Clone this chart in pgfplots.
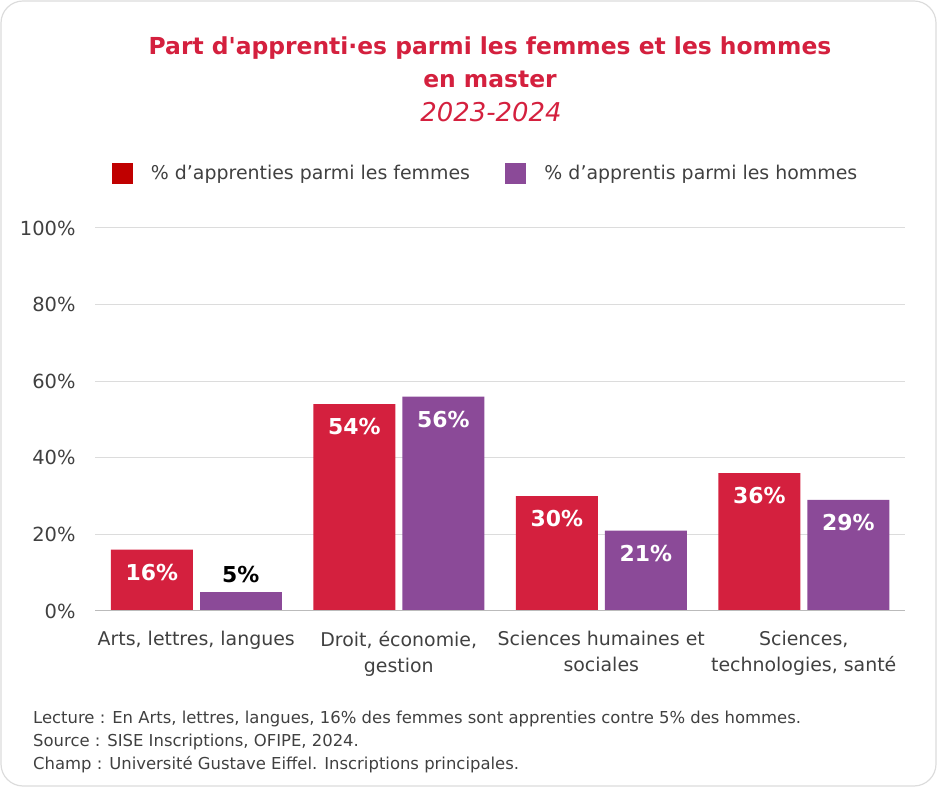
\documentclass[border=0pt]{standalone}
\usepackage{fontspec}
\setmainfont{DejaVu Sans}[Ligatures=TeXOff]
\usepackage{pgfplots}
\pgfplotsset{compat=1.18}
\definecolor{bred}{RGB}{212,32,62}
\definecolor{bpur}{RGB}{139,74,152}
\definecolor{lred}{RGB}{192,0,0}
\definecolor{txt}{RGB}{64,64,64}
\definecolor{grd}{RGB}{220,220,220}
\begin{document}
\begin{tikzpicture}[x=1bp,y=1bp]
\path[use as bounding box] (0,0) rectangle (937,787);
\draw[grd, line width=1.2bp, rounded corners=22bp] (1,1) rectangle (936,786);
\node[bred, font=\bfseries\fontsize{23.5}{28}\selectfont] at (490,739) {Part d'apprenti·es parmi les femmes et les hommes};
\node[bred, font=\bfseries\fontsize{23.5}{28}\selectfont] at (490,708) {en master};
\node[bred, font=\itshape\fontsize{26}{30}\selectfont] at (491,675) {2023-2024};
\begin{axis}[
  at={(95bp,176bp)}, anchor=south west,
  scale only axis, width=810bp, height=383bp,
  xmin=-0.5, xmax=3.5, ymin=0, ymax=100,
  ybar=7bp, bar width=82bp,
  axis line style={draw=none},
  major tick length=0pt,
  ymajorgrids, grid style={grd, line width=1bp},
  ytick={0,20,40,60,80,100},
  yticklabel={\pgfmathprintnumber{\tick}\%},
  /pgf/number format/assume math mode=true,
  y tick label style={font=\fontsize{19.5}{23}\selectfont, text=txt, xshift=-16bp},
  xtick={0,1,2,3},
  xticklabels={{Arts, lettres, langues},{Droit, économie,\\gestion},{Sciences humaines et\\sociales},{Sciences,\\technologies, santé}},
  x tick label style={font=\fontsize{19}{26}\selectfont, text=txt, align=center, yshift=-17bp},
  legend style={at={(0.482,1.1436)}, anchor=center, draw=none, fill=none,
    font=\fontsize{19}{23}\selectfont, text=txt,
    /tikz/every odd column/.append style={column sep=17bp},
    /tikz/every even column/.append style={column sep=33bp}},
  legend columns=2,
  nodes near coords={\pgfmathprintnumber{\pgfplotspointmeta}\%},
  nodes near coords style={anchor=north, text=white, font=\bfseries\fontsize{22}{26}\selectfont, yshift=-11bp},
]
\addlegendimage{legend image code/.code={\fill[lred] (0bp,-10bp) rectangle (20bp,10bp);}}
\addlegendentry{\% d’apprenties parmi les femmes}
\addlegendimage{legend image code/.code={\fill[bpur] (0bp,-10bp) rectangle (20bp,10bp);}}
\addlegendentry{\% d’apprentis parmi les hommes}
\addplot[fill=bred, draw=none, bar shift=-44.5bp, forget plot] coordinates {(0,16) (1,54) (2,30) (3,36)};
\addplot[fill=bpur, draw=none, bar shift=44.5bp, forget plot] coordinates {(1,56) (2,21) (3,29)};
\addplot[fill=bpur, draw=none, bar shift=44.5bp, forget plot,
  nodes near coords style={anchor=south, text=black, yshift=17bp}] coordinates {(0,5)};
\draw[grd!85!black, line width=1.2bp] (axis cs:-0.5,0) -- (axis cs:3.5,0);
\end{axis}
\begin{scope}[every node/.style={anchor=base west, text=txt, font=\fontsize{16.5}{20}\selectfont, inner sep=0pt}]
\node at (33,63) {Lecture : En Arts, lettres, langues, 16\% des femmes sont apprenties contre 5\% des hommes.};
\node at (33,40) {Source : SISE Inscriptions, OFIPE, 2024.};
\node at (33,17) {Champ : Université Gustave Eiffel. Inscriptions principales.};
\end{scope}
\end{tikzpicture}
\end{document}
